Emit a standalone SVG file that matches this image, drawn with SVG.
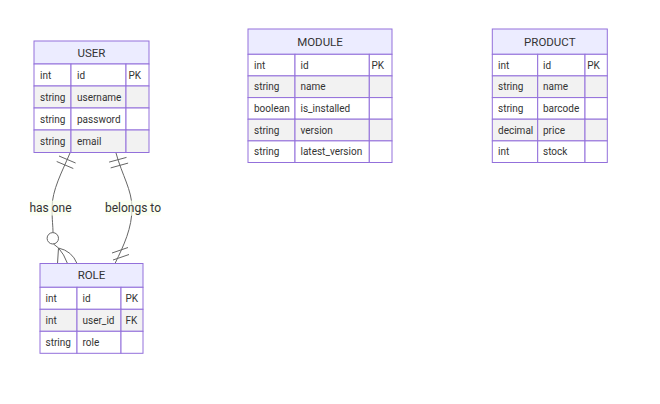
<svg xmlns="http://www.w3.org/2000/svg" width="660" height="404" viewBox="0 0 660 404">
<style>
text{font-family:Roboto,"Liberation Sans",sans-serif;fill:#333}
.hd{fill:#ECECFF;stroke:#9370DB;stroke-width:1}
.o{fill:#ffffff;stroke:#9370DB;stroke-width:1}
.e{fill:#f2f2f2;stroke:#9370DB;stroke-width:1}
.nm{font-size:11.5px;text-anchor:middle}
.at{font-size:10px}
.rel{fill:none;stroke:#666;stroke-width:1}
.lb{fill:#f9ffec;fill-opacity:0.7}
.lt{font-size:12px;text-anchor:middle}
</style>
<rect width="660" height="404" fill="#ffffff"/>
<g id="connectors">
<path class="rel" d="M70,153 C62,172 52,190 52,208 C52,220 53,226 53,232.6"/>
<path class="rel" d="M59,156 L75.6,163 M56.7,161.5 L73.3,168.5"/>
<circle class="rel" cx="52.8" cy="238.3" r="5.7"/>
<path class="rel" d="M53.5,244 L58.5,248 M58.5,248 L57.5,263.5 M58.5,248 Q64,254 67.5,263.5 M58.5,248 Q72,251 77,263.5"/>
<path class="rel" d="M116,153 C122,175 132,190 132,208 C132,228 124,245 115,263.5"/>
<path class="rel" d="M109.1,162.1 L126.5,157.4 M110.7,167.9 L128.1,163.1"/>
<path class="rel" d="M112,253 L128,247.5 M113,260 L129,254.5"/>
<rect class="lb" x="30" y="200.5" width="41" height="15"/>
<text class="lt" x="50.5" y="212.2">has one</text>
<rect class="lb" x="105.5" y="200.5" width="55" height="15"/>
<text class="lt" x="133" y="212.2">belongs to</text>
</g>
<g id="USER">
<rect class="hd" x="34" y="41" width="115" height="23"/>
<text class="nm" x="91.5" y="56.5">USER</text>
<rect class="o" x="34" y="64" width="37" height="22"/><rect class="o" x="71" y="64" width="55" height="22"/><rect class="o" x="126" y="64" width="23" height="22"/>
<rect class="e" x="34" y="86" width="37" height="22"/><rect class="e" x="71" y="86" width="55" height="22"/><rect class="e" x="126" y="86" width="23" height="22"/>
<rect class="o" x="34" y="108" width="37" height="22"/><rect class="o" x="71" y="108" width="55" height="22"/><rect class="o" x="126" y="108" width="23" height="22"/>
<rect class="e" x="34" y="130" width="37" height="22.5"/><rect class="e" x="71" y="130" width="55" height="22.5"/><rect class="e" x="126" y="130" width="23" height="22.5"/>
<text class="at" x="40" y="78.5">int</text><text class="at" x="77" y="78.5">id</text><text class="at" x="128.5" y="78.5">PK</text>
<text class="at" x="40" y="100.5">string</text><text class="at" x="77" y="100.5">username</text>
<text class="at" x="40" y="122.5">string</text><text class="at" x="77" y="122.5">password</text>
<text class="at" x="40" y="144.7">string</text><text class="at" x="77" y="144.7">email</text>
</g>
<g id="ROLE">
<rect class="hd" x="40" y="263.5" width="103" height="23.8"/>
<text class="nm" x="91.5" y="279.4">ROLE</text>
<rect class="o" x="40" y="287.3" width="37" height="22"/><rect class="o" x="77" y="287.3" width="44" height="22"/><rect class="o" x="121" y="287.3" width="22" height="22"/>
<rect class="e" x="40" y="309.3" width="37" height="22"/><rect class="e" x="77" y="309.3" width="44" height="22"/><rect class="e" x="121" y="309.3" width="22" height="22"/>
<rect class="o" x="40" y="331.3" width="37" height="22"/><rect class="o" x="77" y="331.3" width="44" height="22"/><rect class="o" x="121" y="331.3" width="22" height="22"/>
<text class="at" x="45.5" y="301.8">int</text><text class="at" x="82.5" y="301.8">id</text><text class="at" x="125.5" y="301.8">PK</text>
<text class="at" x="45.5" y="323.8">int</text><text class="at" x="82.5" y="323.8">user_id</text><text class="at" x="125.5" y="323.8">FK</text>
<text class="at" x="45.5" y="345.8">string</text><text class="at" x="82.5" y="345.8">role</text>
</g>
<g id="MODULE">
<rect class="hd" x="248" y="29" width="144" height="25.3"/>
<text class="nm" x="320" y="45.5">MODULE</text>
<rect class="o" x="248" y="54.3" width="47" height="21.6"/><rect class="o" x="295" y="54.3" width="74.3" height="21.6"/><rect class="o" x="369.3" y="54.3" width="22.7" height="21.6"/>
<rect class="e" x="248" y="75.9" width="47" height="21.7"/><rect class="e" x="295" y="75.9" width="74.3" height="21.7"/><rect class="e" x="369.3" y="75.9" width="22.7" height="21.7"/>
<rect class="o" x="248" y="97.6" width="47" height="21.6"/><rect class="o" x="295" y="97.6" width="74.3" height="21.6"/><rect class="o" x="369.3" y="97.6" width="22.7" height="21.6"/>
<rect class="e" x="248" y="119.2" width="47" height="21.7"/><rect class="e" x="295" y="119.2" width="74.3" height="21.7"/><rect class="e" x="369.3" y="119.2" width="22.7" height="21.7"/>
<rect class="o" x="248" y="140.9" width="47" height="21.6"/><rect class="o" x="295" y="140.9" width="74.3" height="21.6"/><rect class="o" x="369.3" y="140.9" width="22.7" height="21.6"/>
<text class="at" x="254" y="68.6">int</text><text class="at" x="300.5" y="68.6">id</text><text class="at" x="371.5" y="68.6">PK</text>
<text class="at" x="254" y="90.2">string</text><text class="at" x="300.5" y="90.2">name</text>
<text class="at" x="254" y="111.9">boolean</text><text class="at" x="300.5" y="111.9">is_installed</text>
<text class="at" x="254" y="133.5">string</text><text class="at" x="300.5" y="133.5">version</text>
<text class="at" x="254" y="155.2">string</text><text class="at" x="300.5" y="155.2">latest_version</text>
</g>
<g id="PRODUCT">
<rect class="hd" x="492.3" y="29" width="115" height="25.3"/>
<text class="nm" x="549.8" y="45.5">PRODUCT</text>
<rect class="o" x="492.3" y="54.3" width="45.4" height="21.6"/><rect class="o" x="537.7" y="54.3" width="47.3" height="21.6"/><rect class="o" x="585" y="54.3" width="22.3" height="21.6"/>
<rect class="e" x="492.3" y="75.9" width="45.4" height="21.7"/><rect class="e" x="537.7" y="75.9" width="47.3" height="21.7"/><rect class="e" x="585" y="75.9" width="22.3" height="21.7"/>
<rect class="o" x="492.3" y="97.6" width="45.4" height="21.6"/><rect class="o" x="537.7" y="97.6" width="47.3" height="21.6"/><rect class="o" x="585" y="97.6" width="22.3" height="21.6"/>
<rect class="e" x="492.3" y="119.2" width="45.4" height="21.7"/><rect class="e" x="537.7" y="119.2" width="47.3" height="21.7"/><rect class="e" x="585" y="119.2" width="22.3" height="21.7"/>
<rect class="o" x="492.3" y="140.9" width="45.4" height="21.6"/><rect class="o" x="537.7" y="140.9" width="47.3" height="21.6"/><rect class="o" x="585" y="140.9" width="22.3" height="21.6"/>
<text class="at" x="498" y="68.6">int</text><text class="at" x="543" y="68.6">id</text><text class="at" x="587.3" y="68.6">PK</text>
<text class="at" x="498" y="90.2">string</text><text class="at" x="543" y="90.2">name</text>
<text class="at" x="498" y="111.9">string</text><text class="at" x="543" y="111.9">barcode</text>
<text class="at" x="498" y="133.5">decimal</text><text class="at" x="543" y="133.5">price</text>
<text class="at" x="498" y="155.2">int</text><text class="at" x="543" y="155.2">stock</text>
</g>
</svg>
